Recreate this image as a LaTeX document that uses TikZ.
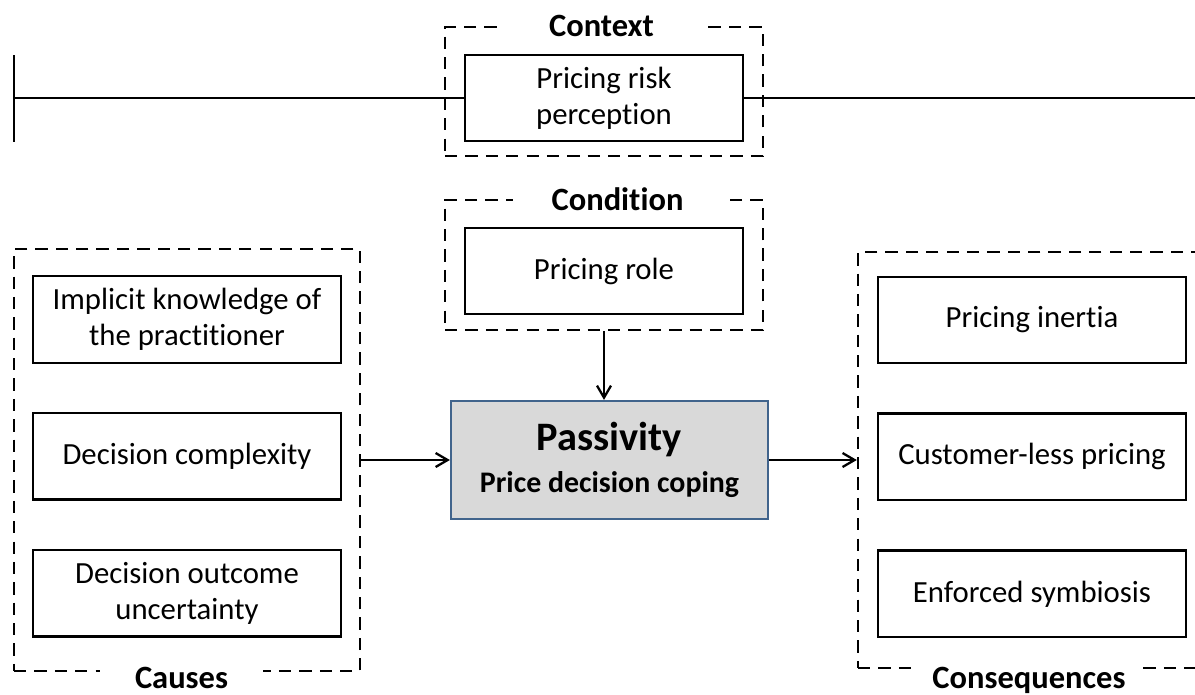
\documentclass[tikz,border=0pt]{standalone}
\usepackage{fontspec}
\setmainfont{Carlito}[Ligatures={NoCommon}]
\usetikzlibrary{positioning,arrows.meta}
\definecolor{coregray}{RGB}{217,217,217}
\definecolor{coreedge}{RGB}{65,100,140}

\begin{document}
\begin{tikzpicture}[
  x=0.02cm, y=-0.02cm,
  node distance=0.96cm and 1cm,
  itembox/.style={draw,line width=1.4pt,fill=white,minimum width=6.16cm,minimum height=1.73cm,align=center,font=\fontsize{17.5pt}{20.5pt}\selectfont},
  groupbox/.style={draw,line width=1.4pt,dash pattern=on 7pt off 4.6pt,inner sep=0pt},
  grouplabel/.style={fill=white,inner xsep=0pt,inner ysep=4pt,font=\bfseries\fontsize{18.5pt}{21pt}\selectfont},
  corebox/.style={draw=coreedge,line width=1.3pt,fill=coregray,minimum width=6.34cm,minimum height=2.36cm,align=center,font=\bfseries\fontsize{17pt}{24pt}\selectfont},
  flow/.style={-{Straight Barb[length=2.4mm,width=2.8mm]},line width=1.3pt}
]
\useasboundingbox (0,0) rectangle (1195,694);
\clip (0,0) rectangle (1195,694);

% timeline ends
\coordinate (tl) at (14,98);
\coordinate (tltop) at (14,55);
\coordinate (tlbot) at (14,142);
\coordinate (tr) at (1200,98);

% context
\node[groupbox,minimum width=6.36cm,minimum height=2.58cm] (ctx) at (604,91.5) {};
\node[grouplabel,minimum width=4.14cm,anchor=base] (ctxlabel) at (601.5,36) {Context};
\node[itembox,minimum width=5.56cm,minimum height=1.72cm] (risk) at (604,98) {Pricing risk\\perception};

\draw[line width=1.4pt] (tltop) -- (tlbot);
\draw[line width=1.4pt] (tl) -- (risk.west);
\draw[line width=1.4pt] (risk.east) -- (tr);

% condition
\node[groupbox,minimum width=6.36cm,minimum height=2.6cm] (cond) at (604,265) {};
\node[grouplabel,minimum width=4.18cm,anchor=base] (condlabel) at (617.5,210) {Condition};
\node[itembox,minimum width=5.56cm,minimum height=1.72cm] (role) at (604,271) {Pricing role};

% core
\node[corebox] (core) at (609.5,460) {{\fontsize{23pt}{27pt}\selectfont Passivity}\\{Price decision coping}};

% causes
\node[groupbox,minimum width=6.92cm,minimum height=8.44cm] (causes) at (187,460) {};
\node[itembox] (knowledge) at (187,319.5) {Implicit knowledge of\\the practitioner};
\node[itembox,below=of knowledge] (complexity) {Decision complexity};
\node[itembox,below=of complexity] (uncertainty) {Decision outcome\\uncertainty};
\node[grouplabel,minimum width=3.26cm,anchor=base] (causeslabel) at (181.5,688) {Causes};

% consequences
\node[groupbox,minimum width=7.04cm,minimum height=8.32cm] (conseq) at (1034,460) {};
\node[itembox] (inertia) at (1032,320) {Pricing inertia};
\node[itembox,below=of inertia] (customerless) {Customer-less pricing};
\node[itembox,below=of customerless] (symbiosis) {Enforced symbiosis};
\node[grouplabel,minimum width=4.56cm,anchor=base] (conseqlabel) at (1029,688) {Consequences};

\draw[flow] (cond.south) -- (cond.south |- core.north);
\draw[flow] (causes.east) -- (core.west);
\draw[flow] (core.east) -- (conseq.west);
\end{tikzpicture}
\end{document}
